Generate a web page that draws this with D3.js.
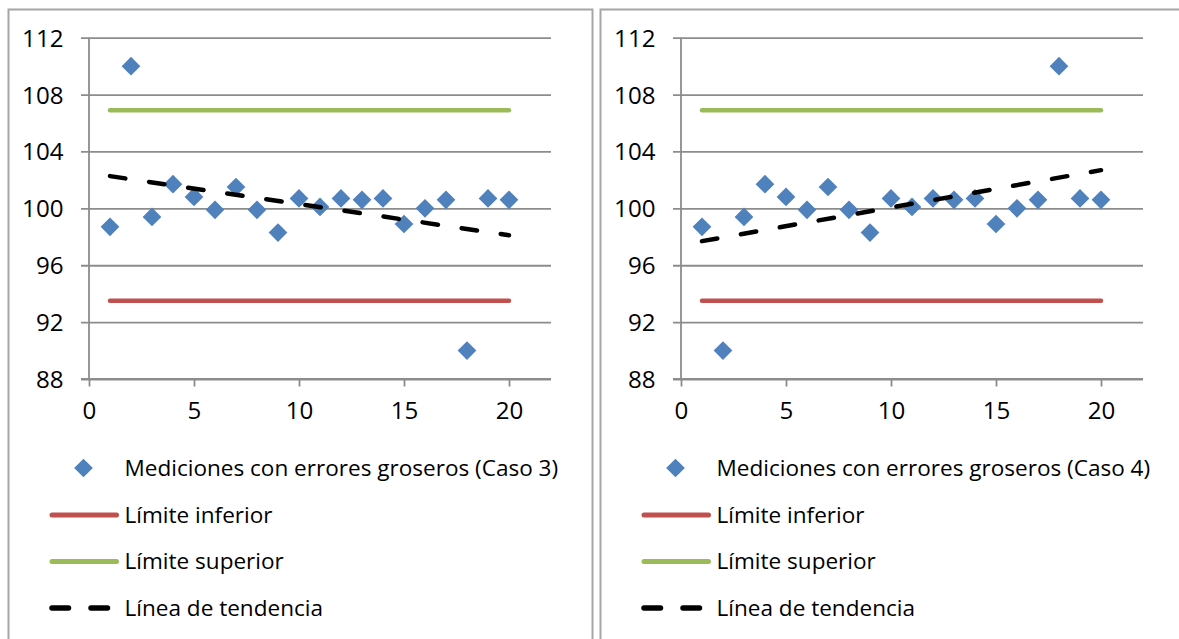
<!DOCTYPE html>
<html>
<head>
<meta charset="utf-8">
<script src="https://cdn.jsdelivr.net/npm/d3@7"></script>
<style>
  html, body { margin: 0; padding: 0; background: #fff; }
  svg { display: block; }
  text { font-family: "Open Sans", "Lato", sans-serif; fill: #000; }
</style>
</head>
<body>
<svg id="chart" width="1179" height="639"></svg>
<script>
// ---------- data ----------
const xValues = [1, 2, 3, 4, 5, 6, 7, 8, 9, 10, 11, 12, 13, 14, 15, 16, 17, 18, 19, 20];
const caso3 = [98.7, 110.0, 99.4, 101.7, 100.8, 99.9, 101.5, 99.9, 98.3, 100.7,
               100.1, 100.7, 100.6, 100.7, 98.9, 100.0, 100.6, 90.0, 100.7, 100.6];
const caso4 = [98.7, 90.0, 99.4, 101.7, 100.8, 99.9, 101.5, 99.9, 98.3, 100.7,
               100.1, 100.7, 100.6, 100.7, 98.9, 100.0, 100.6, 110.0, 100.7, 100.6];
const limiteInferior = 93.5;
const limiteSuperior = 106.9;
const xTicks = [0, 5, 10, 15, 20];
const yTicks = [88, 92, 96, 100, 104, 108, 112];
const seriesNames = ["Mediciones con errores groseros (Caso 3)", "Mediciones con errores groseros (Caso 4)"];
const legendLabels = ["Límite inferior", "Límite superior", "Línea de tendencia"];

// ---------- styles ----------
const colors = { point: "#4F81BD", lower: "#C0504D", upper: "#9BBB59", trend: "#000000", grid: "#8C8C8C", frame: "#A6A6A6" };
const FONT = "'Open Sans', Lato, sans-serif";

const svg = d3.select("#chart");

// fit font size so that the long legend label is about 434px wide (as in the reference)
const probe = svg.append("text").attr("font-family", FONT).attr("font-size", 20).text(seriesNames[0]);
const measured = probe.node().getComputedTextLength();
probe.remove();
const FS = Math.max(16, Math.min(26, 20 * 434 / (measured || 434)));
const TFS = FS * 1.07;

function regression(xs, ys) {
  const mx = d3.mean(xs), my = d3.mean(ys);
  let sxy = 0, sxx = 0;
  xs.forEach((x, i) => { sxy += (x - mx) * (ys[i] - my); sxx += (x - mx) * (x - mx); });
  const b = sxy / sxx;
  return x => my + b * (x - mx);
}

function drawPanel(offset, values, name) {
  const g = svg.append("g").attr("transform", `translate(${offset},0)`);

  // frame
  g.append("rect").attr("x", 8.5).attr("y", 9.5).attr("width", 584).attr("height", 700)
    .attr("fill", "none").attr("stroke", colors.frame).attr("stroke-width", 2);

  const x = d3.scaleLinear().domain([0, 22]).range([89, 551]);
  const y = d3.scaleLinear().domain([88, 112]).range([379, 37.7]);

  // gridlines + y axis
  const yAxis = d3.axisLeft(y).tickValues(yTicks).tickSize(-(551 - 81)).tickPadding(0).tickFormat(d3.format("d"));
  const ya = g.append("g").attr("transform", `translate(81,0)`).call(yAxis);
  ya.select(".domain").remove();
  ya.selectAll(".tick line").attr("stroke", colors.grid).attr("stroke-width", 1.8);
  ya.selectAll(".tick text").attr("x", -17.5).attr("dy", "0.35em").attr("font-size", TFS)
    .attr("font-family", FONT).attr("fill", "#000");

  // vertical axis line
  g.append("line").attr("x1", x(0)).attr("x2", x(0)).attr("y1", y(112)).attr("y2", y(88))
    .attr("stroke", colors.grid).attr("stroke-width", 1.8);

  // x axis
  const xAxis = d3.axisBottom(x).tickValues(xTicks).tickSize(7.5).tickPadding(0).tickFormat(d3.format("d"));
  const xa = g.append("g").attr("transform", `translate(0,${y(88)})`).call(xAxis);
  xa.select(".domain").remove();
  xa.selectAll(".tick line").attr("stroke", colors.grid).attr("stroke-width", 1.8);
  xa.selectAll(".tick text").attr("y", 32).attr("dy", "0.35em").attr("font-size", TFS)
    .attr("font-family", FONT).attr("fill", "#000");
  g.append("line").attr("x1", x(0) - 8).attr("x2", x(22)).attr("y1", y(88)).attr("y2", y(88))
    .attr("stroke", colors.grid).attr("stroke-width", 1.8);

  const line = d3.line().x(d => x(d[0])).y(d => y(d[1]));
  const x0 = d3.min(xValues), x1 = d3.max(xValues);

  // limits
  g.append("path").datum([[x0, limiteSuperior], [x1, limiteSuperior]]).attr("d", line)
    .attr("stroke", colors.upper).attr("stroke-width", 4.5).attr("stroke-linecap", "round").attr("fill", "none");
  g.append("path").datum([[x0, limiteInferior], [x1, limiteInferior]]).attr("d", line)
    .attr("stroke", colors.lower).attr("stroke-width", 4.5).attr("stroke-linecap", "round").attr("fill", "none");

  // points
  const diamond = d3.symbol().type(d3.symbolSquare).size(175);
  g.selectAll(".pt").data(xValues.map((xv, i) => [xv, values[i]])).join("path")
    .attr("class", "pt")
    .attr("d", diamond)
    .attr("transform", d => `translate(${x(d[0])},${y(d[1])}) rotate(45)`)
    .attr("fill", colors.point);

  // trend line (least squares fit of the series)
  const f = regression(xValues, values);
  g.append("path").datum([[x0, f(x0)], [x1, f(x1)]]).attr("d", line)
    .attr("stroke", colors.trend).attr("stroke-width", 4.5).attr("stroke-linecap", "round")
    .attr("stroke-dasharray", "15.5 24").attr("fill", "none");

  // legend
  const rows = [468, 515, 561.5, 608];
  const leg = g.append("g");
  leg.append("path").attr("d", diamond).attr("transform", `translate(83.5,${rows[0]}) rotate(45)`).attr("fill", colors.point);
  leg.append("line").attr("x1", 52).attr("x2", 116.5).attr("y1", rows[1]).attr("y2", rows[1])
    .attr("stroke", colors.lower).attr("stroke-width", 5).attr("stroke-linecap", "round");
  leg.append("line").attr("x1", 52).attr("x2", 116.5).attr("y1", rows[2]).attr("y2", rows[2])
    .attr("stroke", colors.upper).attr("stroke-width", 5).attr("stroke-linecap", "round");
  leg.append("line").attr("x1", 52).attr("x2", 68.5).attr("y1", rows[3]).attr("y2", rows[3])
    .attr("stroke", colors.trend).attr("stroke-width", 5.5).attr("stroke-linecap", "round");
  leg.append("line").attr("x1", 91).attr("x2", 107.5).attr("y1", rows[3]).attr("y2", rows[3])
    .attr("stroke", colors.trend).attr("stroke-width", 5.5).attr("stroke-linecap", "round");
  const labels = [name].concat(legendLabels);
  leg.selectAll(".lt").data(labels).join("text")
    .attr("class", "lt")
    .attr("x", 124.5)
    .attr("y", (d, i) => rows[i])
    .attr("dy", "0.35em")
    .attr("font-size", FS)
    .attr("font-family", FONT)
    .text(d => d);
}

drawPanel(0, caso3, seriesNames[0]);
drawPanel(592, caso4, seriesNames[1]);
</script>
</body>
</html>
